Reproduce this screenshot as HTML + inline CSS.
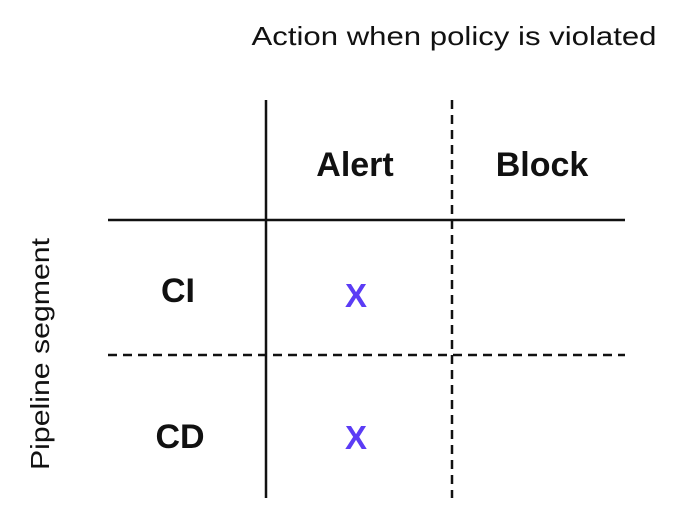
<!DOCTYPE html>
<html><head><style>
body{margin:0;background:#fff;}
svg{display:block;font-family:"Liberation Sans",sans-serif;}
</style></head><body>
<svg width="680" height="526" viewBox="0 0 680 526">
<rect width="680" height="526" fill="#fff"/>
<text x="454" y="45" font-size="26" text-anchor="middle" fill="#111" textLength="405" lengthAdjust="spacingAndGlyphs">Action when policy is violated</text>
<text x="42" y="354" font-size="26" text-anchor="middle" fill="#111" transform="rotate(-90 42 354)" dominant-baseline="middle" textLength="232" lengthAdjust="spacingAndGlyphs">Pipeline segment</text>
<line x1="266" y1="100" x2="266" y2="498" stroke="#111" stroke-width="2.5"/>
<line x1="108" y1="220" x2="625" y2="220" stroke="#111" stroke-width="2.5"/>
<line x1="452" y1="100" x2="452" y2="498" stroke="#111" stroke-width="2.5" stroke-dasharray="9,6"/>
<line x1="108" y1="355" x2="625" y2="355" stroke="#111" stroke-width="2.5" stroke-dasharray="9,6"/>
<g font-size="34" font-weight="bold" fill="#111" text-anchor="middle">
<text x="355" y="176">Alert</text>
<text x="542" y="176">Block</text>
<text x="178" y="302">CI</text>
<text x="180" y="448">CD</text>
</g>
<g font-size="33" font-weight="bold" fill="#5b3cf5" text-anchor="middle">
<text x="356" y="307">X</text>
<text x="356" y="449">X</text>
</g>
</svg>
</body></html>
